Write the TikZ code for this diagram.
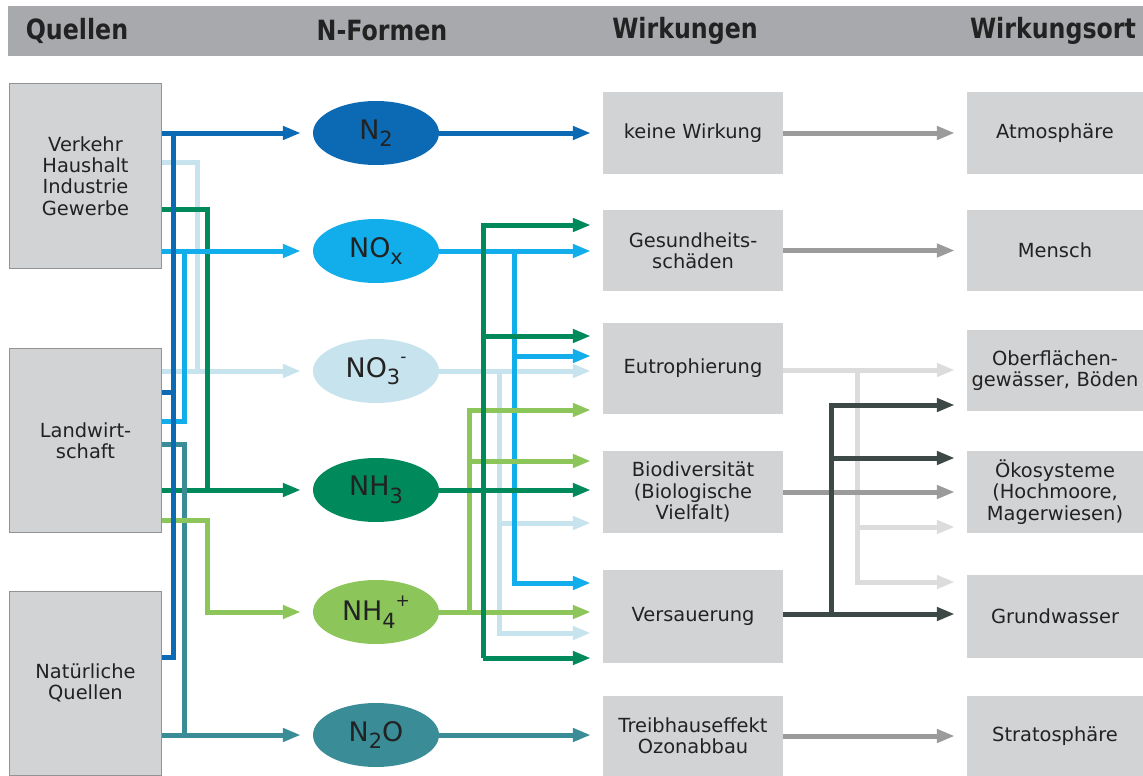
\documentclass[tikz,border=0pt]{standalone}
\usepackage{fontspec}
\setmainfont{DejaVu Sans}
\newfontfamily\headfont[FakeStretch=0.85]{DejaVu Sans}
\usetikzlibrary{shapes.geometric,arrows.meta}

\definecolor{nblue}{HTML}{0B6AB3}
\definecolor{ncyan}{HTML}{12AEEB}
\definecolor{npale}{HTML}{C7E3EE}
\definecolor{ngreen}{HTML}{00895A}
\definecolor{nlime}{HTML}{8CC65A}
\definecolor{nteal}{HTML}{3A8C97}
\definecolor{boxgray}{HTML}{D1D3D4}
\definecolor{headgray}{HTML}{A7A9AC}
\definecolor{gmid}{HTML}{9B9B9B}
\definecolor{glight}{HTML}{DCDCDC}
\definecolor{gdark}{HTML}{3C4947}
\definecolor{ink}{HTML}{222222}

\newcommand\chemsub[1]{\raisebox{-0.28em}{\fontsize{21}{21}\selectfont #1}}
\newcommand\chemsup[1]{\raisebox{0.55em}{\fontsize{17}{17}\selectfont #1}}

\begin{document}
\begin{tikzpicture}[x=1bp, y=-1bp,
    txt/.style = {font={\fontsize{19.5}{21.5}\selectfont}, text=ink, align=center},
    src/.style = {txt, draw=gray!85, line width=1bp, fill=boxgray, text width=151bp, minimum height=184bp, inner sep=0},
    form/.style = {ellipse, minimum width=126bp, minimum height=64bp, inner sep=0, text=ink, font={\fontsize{27}{27}\selectfont}},
    eff/.style = {txt, fill=boxgray, text width=180bp, inner sep=0},
    site/.style = {txt, fill=boxgray, text width=176bp, inner sep=0},
    colhead/.style = {font={\headfont\bfseries\fontsize{28}{28}\selectfont}, text=ink},
    lnk/.style = {line width=5bp},
    arr/.style = {line width=5bp, shorten >=12bp, -{Triangle[length=18bp,width=13bp]}}]
\useasboundingbox (0,0) rectangle (1143,776);

% header
\fill[headgray] (8,6) rectangle (1143,56);
\node[colhead] (h1) at (77,31) {Quellen};
\node[colhead] (h2) at (382,31) {N-Formen};
\node[colhead] (h3) at (685,31) {Wirkungen};
\node[colhead] (h4) at (1053,31) {Wirkungsort};

% Quellen
\node[src] (q1) at (85.5,176) {Verkehr\\Haushalt\\Industrie\\Gewerbe\\[8bp]};
\node[src] (q2) at (85.5,440.5) {Landwirt-\\schaft};
\node[src] (q3) at (85.5,683) {Natürliche\\Quellen\\[6bp]};

% N-Formen
\node[form, fill=nblue] (n2) at (376,133) {N\chemsub{2}};
\node[form, fill=ncyan] (nox) at (376,251) {NO\chemsub{x}};
\node[form, fill=npale] (no3) at (376,371) {NO\chemsub{3}\chemsup{-}};
\node[form, fill=ngreen] (nh3) at (376,490) {NH\chemsub{3}};
\node[form, fill=nlime] (nh4) at (376,612) {NH\chemsub{4}\chemsup{+}};
\node[form, fill=nteal] (n2o) at (376,735) {N\chemsub{2}O};

% Wirkungen
\node[eff, minimum height=81bp] (w1) at (693,133) {keine Wirkung};
\node[eff, minimum height=81bp] (w2) at (693,250.5) {Gesundheits-\\schäden};
\node[eff, minimum height=91bp] (w3) at (693,368.5) {Eutrophierung};
\node[eff, minimum height=82bp] (w4) at (693,492) {Biodiversität\\(Biologische\\Vielfalt)};
\node[eff, minimum height=93bp] (w5) at (693,616.5) {Versauerung};
\node[eff, minimum height=80bp] (w6) at (693,736) {Treibhauseffekt\\Ozonabbau};

% Wirkungsort
\node[site, minimum height=81bp] (o1) at (1055,133) {Atmosphäre};
\node[site, minimum height=81bp] (o2) at (1055,250.5) {Mensch};
\node[site, minimum height=81bp] (o3) at (1055,370.5) {Oberflächen-\\gewässer, Böden};
\node[site, minimum height=82bp] (o4) at (1055,492) {Ökosysteme\\(Hochmoore,\\Magerwiesen)};
\node[site, minimum height=83bp] (o5) at (1055,616) {Grundwasser};
\node[site, minimum height=80bp] (o6) at (1055,736) {Stratosphäre};

% Quellen -> N-Formen
\draw[lnk, npale] (q1.east |- 0,162) -| (197,370);
\draw[arr, npale] (q2.east |- no3) -- (no3);
\draw[lnk, ngreen] (q1.east |- 0,209) -| (207,490);
\draw[arr, ngreen] (q2.east |- nh3) -- (nh3);
\draw[arr, ncyan] (q1.east |- nox) -- (nox);
\draw[lnk, ncyan] (q2.east |- 0,421) -| (184,251);
\draw[lnk, nteal] (q2.east |- 0,444) -| (184,735);
\draw[arr, nteal] (q3.east |- n2o) -- (n2o);
\draw[arr, nlime] (q2.east |- 0,520) -| (207,612) -- (nh4);
\draw[arr, nblue] (q1.east |- n2) -- (n2);
\draw[lnk, nblue] (173,133) |- (q3.east |- 0,657);
\draw[lnk, nblue] (q2.east |- 0,392) -- (173,392);

% N-Formen -> Wirkungen
\draw[arr, nblue] (n2) -- (w1);
\draw[arr, npale] (no3) -- (w3.west |- no3);
\draw[arr, npale] (no3 -| 499,0) |- (w5.west |- 0,633);
\draw[arr, npale] (499,523) -- (w4.west |- 0,523);
\draw[arr, ncyan] (nox) -- (w2.west |- nox);
\draw[arr, ncyan] (nox -| 514,0) |- (w5.west |- 0,583);
\draw[arr, ncyan] (514,356) -- (w3.west |- 0,356);
\draw[arr, nlime] (nh4) -- (w5.west |- nh4);
\draw[arr, nlime] (nh4 -| 469,0) |- (w3.west |- 0,410);
\draw[arr, nlime] (469,461) -- (w4.west |- 0,461);
\draw[arr, ngreen] (nh3) -- (w4.west |- nh3);
\draw[arr, ngreen] (483,658) |- (w2.west |- 0,225);
\draw[arr, ngreen] (483,336) -- (w3.west |- 0,336);
\draw[arr, ngreen] (483,658) -- (w5.west |- 0,658);
\draw[arr, nteal] (n2o) -- (w6.west |- n2o);

% Wirkungen -> Wirkungsort
\draw[arr, gmid] (w1) -- (o1);
\draw[arr, gmid] (w2) -- (o2);
\draw[arr, glight] (w3.east |- 0,370) -- (o3.west |- 0,370);
\draw[arr, glight] (857,370) |- (o5.west |- 0,582);
\draw[arr, glight] (857,527) -- (o4.west |- 0,527);
\draw[arr, gmid] (w4) -- (o4);
\draw[arr, gdark] (w5.east |- 0,614) -- (o5.west |- 0,614);
\draw[arr, gdark] (831,614) |- (o3.west |- 0,405);
\draw[arr, gdark] (831,458) -- (o4.west |- 0,458);
\draw[arr, gmid] (w6) -- (o6);
\end{tikzpicture}
\end{document}
